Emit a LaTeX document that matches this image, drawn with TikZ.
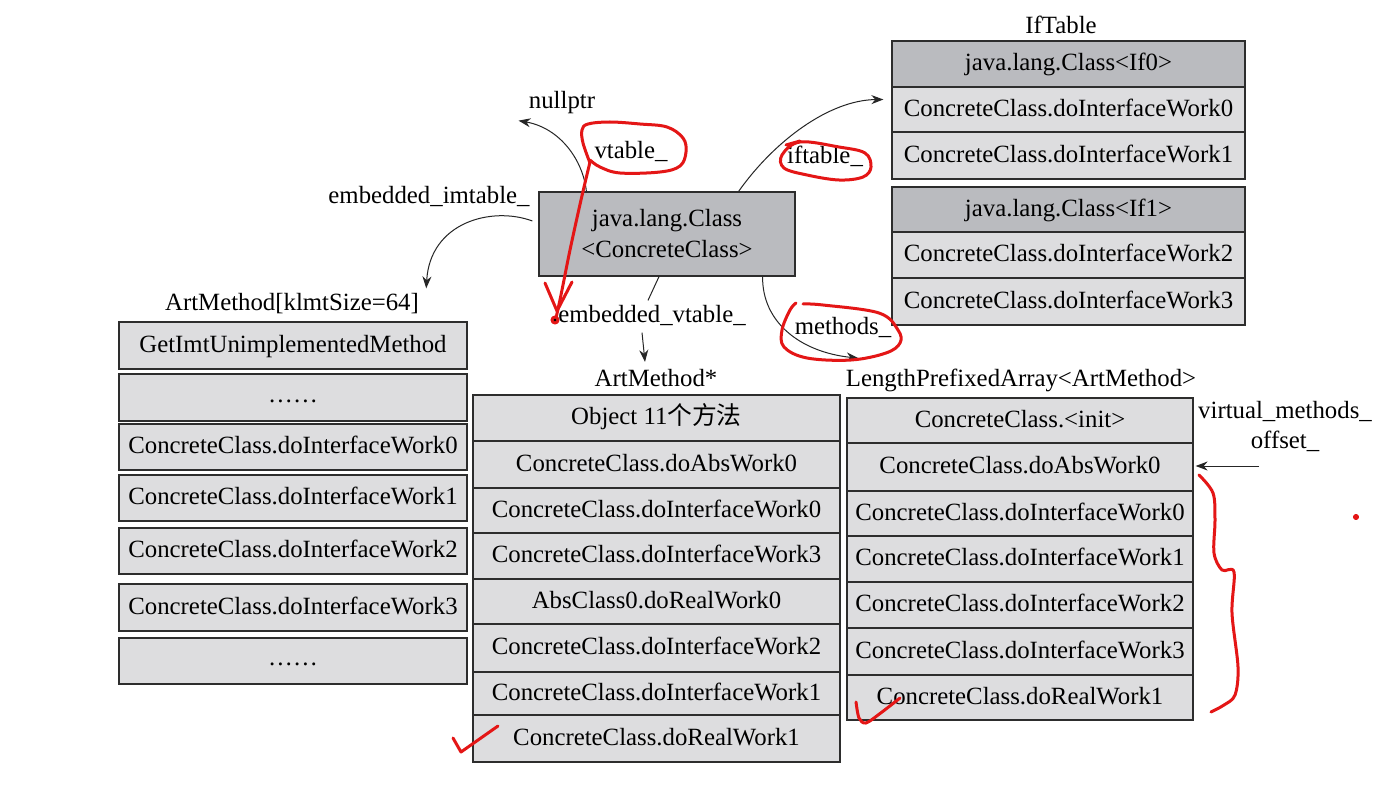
\documentclass[tikz,border=0pt]{standalone}
\usepackage{fontspec}
\setmainfont{Liberation Serif}
\newfontfamily\cjk{Noto Sans CJK SC}
\usetikzlibrary{arrows.meta,calc}

\definecolor{hdrgray}{RGB}{186,187,191}
\definecolor{cellgray}{RGB}{221,221,223}
\definecolor{edge}{RGB}{45,45,45}
\definecolor{pen}{RGB}{228,22,22}

% one table cell given by its corners: style, name, x1, y1, x2, y2, text
\newcommand\mkcell[7]{%
  \pgfmathsetmacro\cellW{(#5-#3)*0.5}%
  \pgfmathsetmacro\cellH{(#6-#4)*0.5}%
  \node[#1, minimum width=\cellW pt, minimum height=\cellH pt]
    (#2) at ({(#3+#5)/2},{(#4+#6)/2}) {#7};}
% a centred row of dots
\newcommand\rowdots{\raisebox{0.07em}{……}}

\begin{document}
\begin{tikzpicture}[x=0.5pt,y=-0.5pt,
  font=\fontsize{12.4}{15}\selectfont,
  cell/.style={draw=edge, line width=0.6pt, fill=cellgray, inner sep=0pt,
               text height=0.76em, text depth=0.1em},
  hdr/.style={cell, fill=hdrgray},
  lbl/.style={inner sep=1pt},
  arr/.style={draw=black!85, line width=0.5pt, -{Stealth[length=6pt,width=4.5pt]}},
  ln/.style={draw=black!85, line width=0.5pt},
  pen/.style={draw=pen, line width=1.5pt, line cap=round, line join=round}]

\useasboundingbox[fill=white] (0,0) rectangle (1376,802);

% ---- the class object ----
\node[draw=edge, line width=0.6pt, fill=hdrgray, minimum width=128pt,
      minimum height=42pt, align=center, inner sep=0pt,
      font=\fontsize{12.4}{15.5}\selectfont]
  (cls) at (667,234) {java.lang.Class\\<ConcreteClass>};

% ---- IfTable ----
\node[lbl] (iftitle) at (1061,25) {IfTable};
\mkcell{hdr}{ih0}{892}{41}{1245}{87}{java.lang.Class<If0>}
\mkcell{cell}{i0}{892}{87}{1245}{132}{ConcreteClass.doInterfaceWork0}
\mkcell{cell}{i1}{892}{132}{1245}{179}{ConcreteClass.doInterfaceWork1}
\mkcell{hdr}{ih1}{892}{187}{1245}{232}{java.lang.Class<If1>}
\mkcell{cell}{i2}{892}{232}{1245}{278}{ConcreteClass.doInterfaceWork2}
\mkcell{cell}{i3}{892}{278}{1245}{325}{ConcreteClass.doInterfaceWork3}

% ---- embedded IMT ----
\node[lbl] (amk) at (292,304) {ArtMethod[klmtSize=64]};
\mkcell{cell}{l1}{119}{322}{467}{369}{GetImtUnimplementedMethod}
\mkcell{cell}{l2}{119}{374}{467}{421}{\rowdots}
\mkcell{cell}{l3}{119}{424}{467}{470}{ConcreteClass.doInterfaceWork0}
\mkcell{cell}{l4}{119}{475}{467}{521}{ConcreteClass.doInterfaceWork1}
\mkcell{cell}{l5}{119}{528}{467}{574}{ConcreteClass.doInterfaceWork2}
\mkcell{cell}{l6}{119}{584}{467}{631}{ConcreteClass.doInterfaceWork3}
\mkcell{cell}{l7}{119}{638}{467}{684}{\rowdots}

% ---- embedded vtable ----
\node[lbl] (amp) at (656,378) {ArtMethod*};
\mkcell{cell}{m1}{473}{395}{840}{441}{Object 11{\cjk 个方法}}
\mkcell{cell}{m2}{473}{441}{840}{488}{ConcreteClass.doAbsWork0}
\mkcell{cell}{m3}{473}{488}{840}{533}{ConcreteClass.doInterfaceWork0}
\mkcell{cell}{m4}{473}{533}{840}{579}{ConcreteClass.doInterfaceWork3}
\mkcell{cell}{m5}{473}{579}{840}{624}{AbsClass0.doRealWork0}
\mkcell{cell}{m6}{473}{624}{840}{672}{ConcreteClass.doInterfaceWork2}
\mkcell{cell}{m7}{473}{672}{840}{715}{ConcreteClass.doInterfaceWork1}
\mkcell{cell}{m8}{473}{715}{840}{762}{ConcreteClass.doRealWork1}

% ---- methods_ array ----
\node[lbl] (lpa) at (1021,380) {LengthPrefixedArray<ArtMethod>};
\mkcell{cell}{r1}{847}{398}{1193}{443}{ConcreteClass.<init>}
\mkcell{cell}{r2}{847}{443}{1193}{491}{ConcreteClass.doAbsWork0}
\mkcell{cell}{r3}{847}{491}{1193}{536}{ConcreteClass.doInterfaceWork0}
\mkcell{cell}{r4}{847}{536}{1193}{582}{ConcreteClass.doInterfaceWork1}
\mkcell{cell}{r5}{847}{582}{1193}{628}{ConcreteClass.doInterfaceWork2}
\mkcell{cell}{r6}{847}{628}{1193}{675}{ConcreteClass.doInterfaceWork3}
\mkcell{cell}{r7}{847}{675}{1193}{720}{ConcreteClass.doRealWork1}

% ---- field labels ----
\node[lbl] (nullptr) at (562,103) {nullptr};
\node[lbl] (vtl) at (631,151) {vtable\_};
\node[lbl] (imt) at (429,196) {embedded\_imtable\_};
\node[lbl] (ift) at (825,156) {iftable\_};
\node[lbl] (evt) at (652,315) {embedded\_vtable\_};
\node[lbl] (mth) at (843,327) {methods\_};
\node[lbl, align=center, font=\fontsize{12.4}{15}\selectfont] (vmo) at (1285,426)
  {virtual\_methods\_\\offset\_};
\coordinate (vmoarr) at (1259,466);

% ---- pointers ----
\draw[arr] ($(cls.north west)+(48,0)$) .. controls (583,160) and (560,128) ..
  ($(nullptr.south west)+(-8,4)$);
\draw[arr] ($(cls.west)+(-6,-13)$) .. controls (492,206) and (430,222) ..
  ($(amk.north east)+(5,-3)$);
\draw[arr] ($(cls.north east)+(-57,0)$) .. controls (775,140) and (830,100) ..
  ($(i0.west)+(-8,-10)$);
\draw[arr] ($(cls.south east)+(-33,0)$) .. controls (762,322) and (800,352) ..
  ($(lpa.north west)+(15,-8)$);
\draw[ln] ($(cls.south)+(-8,0)$) -- ($(evt.north)+(-4,-2)$);
\draw[arr] ($(evt.south)+(-10,5)$) -- ($(amp.north)+(-11,-5)$);
\draw[arr] (vmoarr) -- ($(r2.east)+(2,-1)$);

% ---- pen marks ----
\draw[pen] plot[smooth, tension=0.6] coordinates {
  (590,163) (583,143) (582,130) (588,124) (610,122) (640,124) (667,127)
  (683,138) (686,152) (680,166) (660,172) (620,173) (600,167) (590,160)};
\draw[pen] plot[smooth, tension=0.5] coordinates {
  (590,162) (581,200) (570,250) (561,295) (556,318)};
\draw[pen] (545,283) -- (557,311) -- (572,282);
\fill[pen] (555,320) circle (3);

\draw[pen] plot[smooth cycle, tension=0.6] coordinates {
  (800,142) (839,147) (865,153) (871,167) (863,177) (839,180)
  (807,175) (784,168) (782,155)};
\draw[pen] (786,145) -- (800,141);

\draw[pen] plot[smooth, tension=0.6] coordinates {
  (803,304) (823,305) (879,313) (898,330) (900,343) (886,353) (851,360)
  (807,358) (784,347) (782,330) (790,310) (796,303)};

\draw[pen] (453,738) -- (461,752) -- (498,726);
\draw[pen] plot[smooth, tension=0.5] coordinates {(856,702) (859,718) (866,723) (882,712) (900,698)};

\draw[pen] plot[smooth, tension=0.55] coordinates {
  (1199,475) (1213,493) (1215,520) (1214,553) (1222,570) (1234,572)
  (1232,613) (1238,667) (1235,695) (1224,705) (1211,712)};
\fill[pen] (1356,517) circle (1.8);
\end{tikzpicture}
\end{document}
